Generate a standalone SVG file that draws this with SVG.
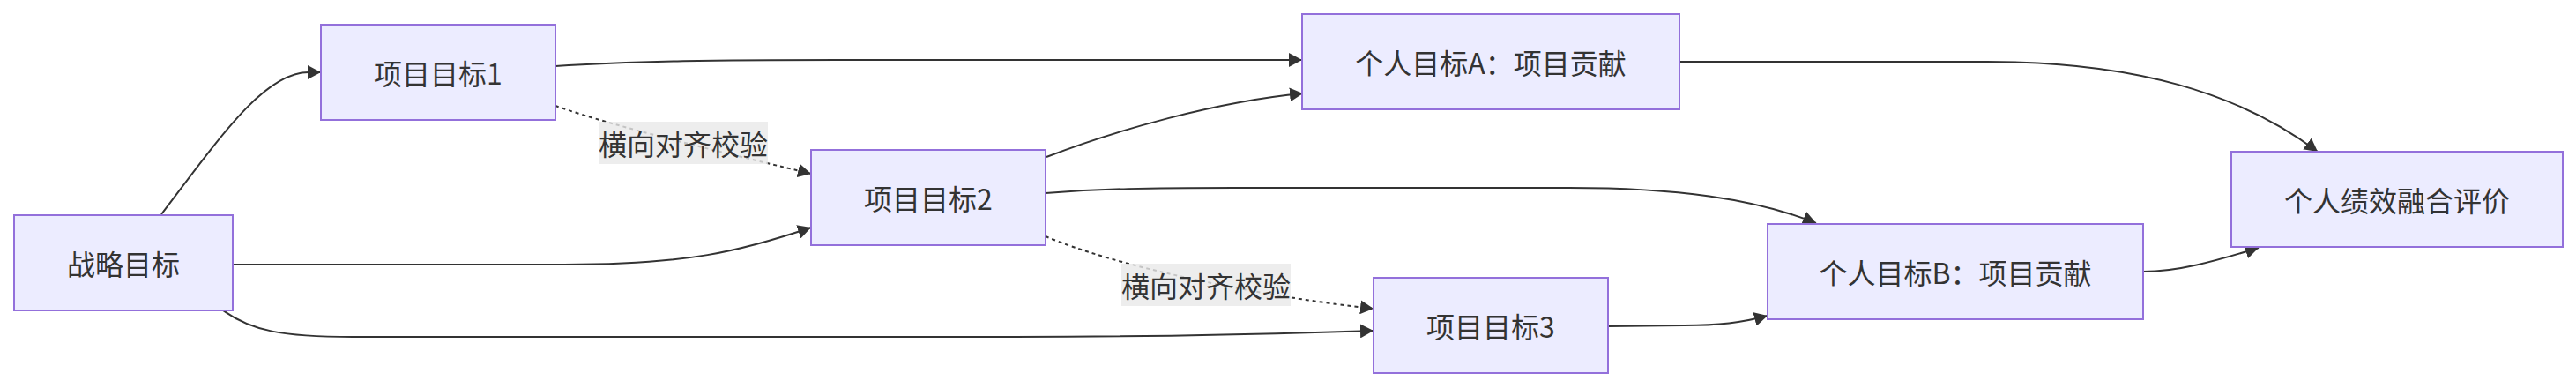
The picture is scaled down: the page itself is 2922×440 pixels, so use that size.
<svg xmlns="http://www.w3.org/2000/svg" width="2922" height="440" viewBox="0 0 2922 440">
<style>
.node rect{fill:#ECECFF;stroke:#9370DB;stroke-width:2}
.node text,.lbl text{font-family:"Noto Sans CJK SC","Noto Sans",sans-serif;font-size:32px;fill:#333;text-anchor:middle;dominant-baseline:central}
.edge{fill:none;stroke:#333;stroke-width:2;marker-end:url(#arr)}
.dot{stroke-dasharray:4 4}
.lbl rect{fill:#e8e8e8;fill-opacity:0.8}
</style>
<defs>
<marker id="arr" markerUnits="userSpaceOnUse" viewBox="0 0 15 16" refX="15" refY="8" markerWidth="15" markerHeight="16" orient="auto">
<path d="M0,0 L15,8 L0,16 z" fill="#333"/>
</marker>
</defs>
<rect width="2922" height="440" fill="#fff"/>
<g id="connectors">
<path class="edge" d="M183,243 C250,155 300,82 350,82 L364,82"/>
<path class="edge" d="M264,300 L640,300 C780,300 840,285 920,258"/>
<path class="edge" d="M253,352 C285,375 320,382 400,382 L1150,382 C1350,382 1450,378 1558,375"/>
<path class="edge" d="M630,75 C720,69 820,68 950,68 L1477,68"/>
<path class="edge dot" d="M630,120 C700,145 850,180 920,197"/>
<path class="edge" d="M1187,178 C1265,148 1380,115 1478,106"/>
<path class="edge" d="M1186,219 C1250,214 1300,213 1400,213 L1780,213 C1900,213 1990,225 2060,253"/>
<path class="edge dot" d="M1186,268 C1260,300 1420,335 1558,350"/>
<path class="edge" d="M1824,370 L1910,369 C1950,369 1975,366 2005,358"/>
<path class="edge" d="M1905,70 L2254,70 C2420,70 2540,105 2629,172"/>
<path class="edge" d="M2431,308 C2470,308 2510,297 2562,281"/>
<g class="lbl" id="label1"><rect x="679" y="138" width="192" height="48"/><text x="775" y="162">横向对齐校验</text></g>
<g class="lbl" id="label2"><rect x="1272" y="299" width="192" height="48"/><text x="1368" y="323">横向对齐校验</text></g>
</g>
<g class="node" id="strategy"><rect x="16" y="244" width="248" height="108"/><text x="140" y="298">战略目标</text></g>
<g class="node" id="proj1"><rect x="364" y="28" width="266" height="108"/><text x="497" y="82">项目目标1</text></g>
<g class="node" id="proj2"><rect x="920" y="170" width="266" height="108"/><text x="1053" y="224">项目目标2</text></g>
<g class="node" id="proj3"><rect x="1558" y="315" width="266" height="108"/><text x="1691" y="369">项目目标3</text></g>
<g class="node" id="personA"><rect x="1477" y="16" width="428" height="108"/><text x="1691" y="70">个人目标A：项目贡献</text></g>
<g class="node" id="personB"><rect x="2005" y="254" width="426" height="108"/><text x="2218" y="308">个人目标B：项目贡献</text></g>
<g class="node" id="eval"><rect x="2531" y="172" width="376" height="108"/><text x="2719" y="226">个人绩效融合评价</text></g>
</svg>
